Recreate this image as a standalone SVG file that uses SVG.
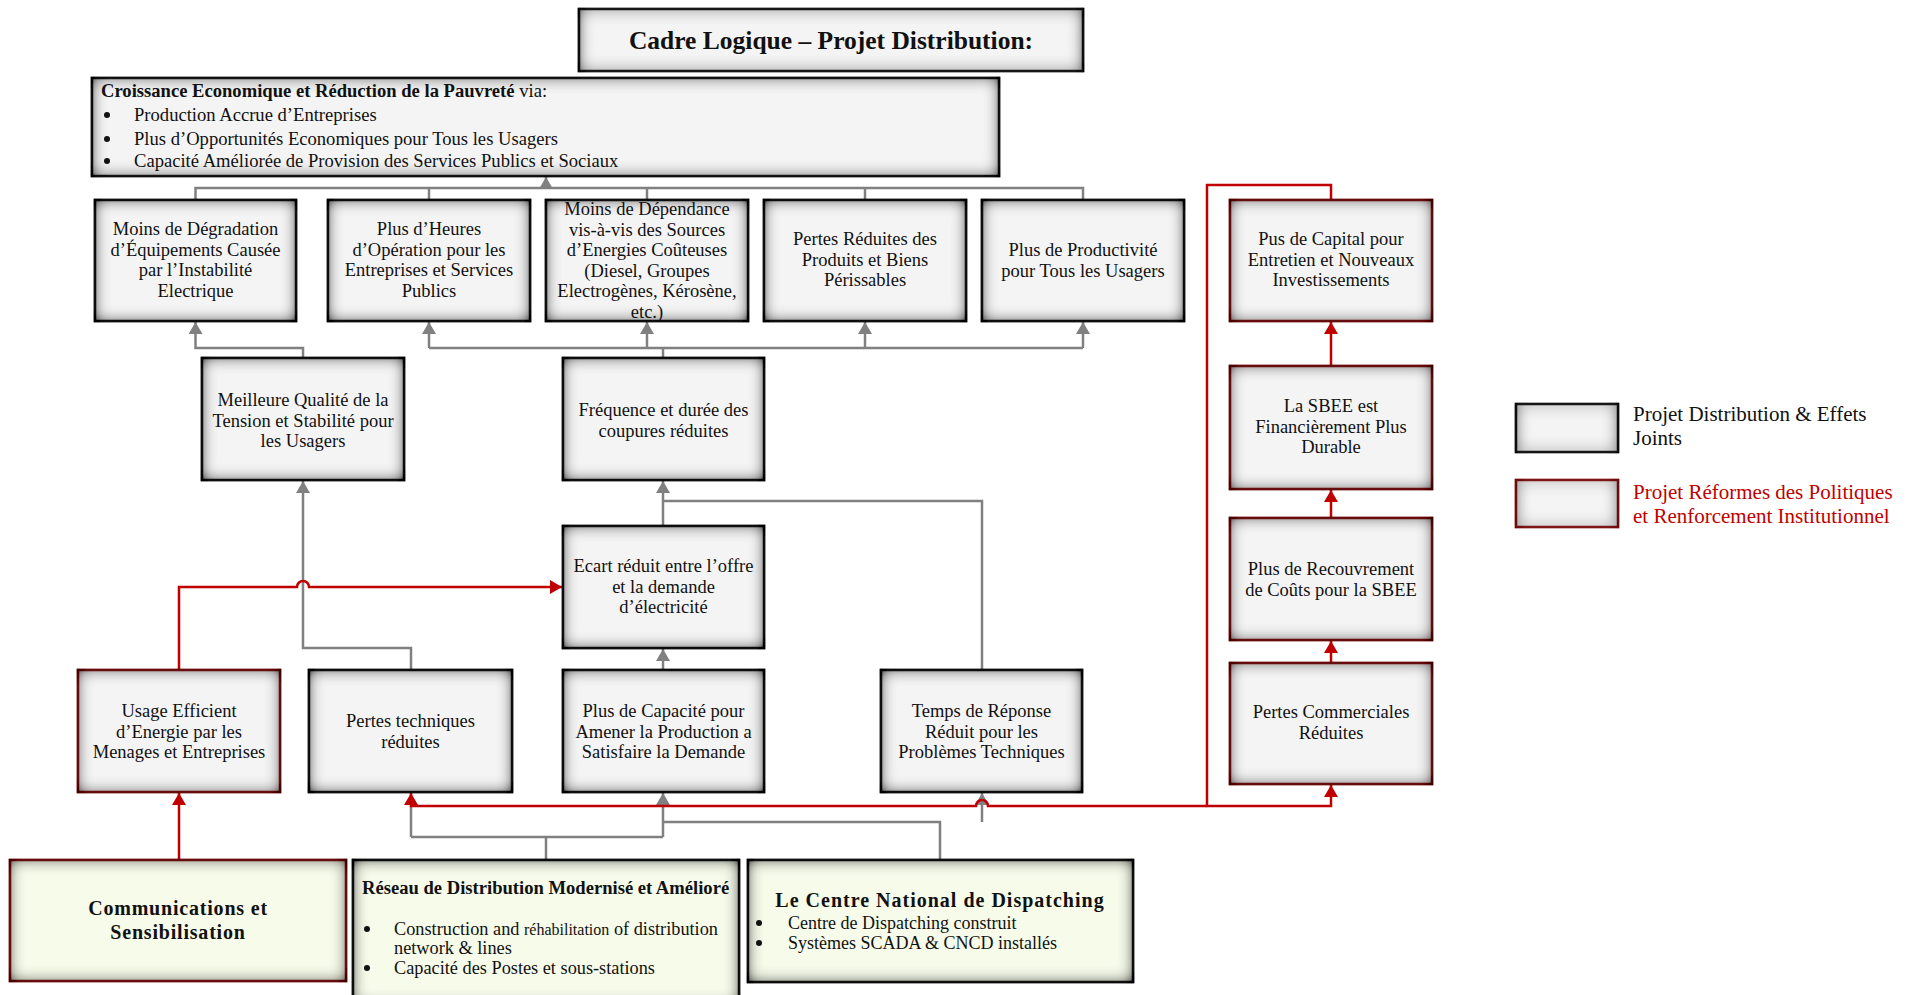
<svg xmlns="http://www.w3.org/2000/svg" width="1931" height="995" viewBox="0 0 1931 995">
<style>
text{font-family:"Liberation Serif","Times New Roman",serif;fill:#111}
.t{font-size:18.5px;text-anchor:middle}
.l{font-size:18.6px}
.b{font-weight:bold}
.bx{fill:#f4f4f4;stroke:#222;stroke-width:2.5;filter:url(#vig)}
.rx{fill:#f4f4f4;stroke:#8e1d1d;stroke-width:2.5;filter:url(#vigr)}
.gx{fill:#f6fbea;stroke:#222;stroke-width:2.5;filter:url(#vig)}
.grx{fill:#f6fbea;stroke:#8e1d1d;stroke-width:2.5;filter:url(#vigr)}
.g{fill:none;stroke:#808080;stroke-width:2.5}
.r{fill:none;stroke:#c00000;stroke-width:2.5}
.ga{marker-end:url(#ag)}
.ra{marker-end:url(#ar)}
.red{fill:#c00000}
</style>
<defs>
<filter id="vig" x="-10%" y="-10%" width="120%" height="120%">
<feFlood flood-color="#000" flood-opacity="1" result="f"/>
<feComposite in="f" in2="SourceAlpha" operator="out" result="o"/>
<feGaussianBlur in="o" stdDeviation="8" result="bl"/>
<feComponentTransfer in="bl" result="bl2"><feFuncA type="linear" slope="1.5"/></feComponentTransfer>
<feComposite in="bl2" in2="SourceAlpha" operator="in" result="s"/>
<feMerge><feMergeNode in="SourceGraphic"/><feMergeNode in="s"/></feMerge>
</filter>
<filter id="vigr" x="-10%" y="-10%" width="120%" height="120%">
<feFlood flood-color="#2a0d0d" flood-opacity="1" result="f"/>
<feComposite in="f" in2="SourceAlpha" operator="out" result="o"/>
<feGaussianBlur in="o" stdDeviation="8" result="bl"/>
<feComponentTransfer in="bl" result="bl2"><feFuncA type="linear" slope="1.4"/></feComponentTransfer>
<feComposite in="bl2" in2="SourceAlpha" operator="in" result="s"/>
<feMerge><feMergeNode in="SourceGraphic"/><feMergeNode in="s"/></feMerge>
</filter>
<marker id="ag" viewBox="0 0 12 14" refX="12" refY="7" markerWidth="12" markerHeight="14" markerUnits="userSpaceOnUse" orient="auto"><path d="M0,0 L12,7 L0,14 z" fill="#808080"/></marker>
<marker id="ar" viewBox="0 0 12 14" refX="12" refY="7" markerWidth="12" markerHeight="14" markerUnits="userSpaceOnUse" orient="auto"><path d="M0,0 L12,7 L0,14 z" fill="#c00000"/></marker>
</defs>
<rect width="1931" height="995" fill="#fff"/>

<g id="connectors">
<path class="g" d="M195.5,200 V188 H1083 V200 M429,188 V200 M647,188 V200 M865,188 V200"/>
<path class="g ga" d="M546,188 V177"/>
<path class="g ga" d="M303,358 V348 H195.5 V322"/>
<path class="g" d="M663,358 V348 M429,348 H1083"/>
<path class="g ga" d="M429,348 V322"/>
<path class="g ga" d="M647,348 V322"/>
<path class="g ga" d="M865,348 V322"/>
<path class="g ga" d="M1083,348 V322"/>
<path class="g ga" d="M663,526 V481"/>
<path class="g" d="M982,670 V501 H663"/>
<path class="g ga" d="M411,670 V648 H303 V481"/>
<path class="g ga" d="M663,670 V649"/>
<path class="g" d="M546,860 V837 M411,837 H663 M411,837 V806 M940,860 V822 H663"/>
<path class="g ga" d="M663,837 V793"/>
<path class="g ga" d="M982,822 V793"/>
<path class="r ra" d="M179,670 V587 H297 a6,6 0 0 1 12,0 H562"/>
<path class="r ra" d="M179,860 V793"/>
<path class="r ra" d="M1331,200 V185 H1207 V806 H1331 V785"/>
<path class="r ra" d="M1207,806 H988 a6,6 0 0 0 -12,0 H411 V793"/>
<path class="r ra" d="M1331,663 V641"/>
<path class="r ra" d="M1331,518 V490"/>
<path class="r ra" d="M1331,366 V322"/>
</g>

<g id="title">
<rect class="bx" x="579" y="9" width="504" height="62"/>
<text x="831" y="48.5" font-size="25.5" font-weight="bold" text-anchor="middle">Cadre Logique – Projet Distribution:</text>
</g>

<g id="goal">
<rect class="bx" x="92" y="78" width="907" height="98"/>
<text class="l" x="101" y="97"><tspan class="b">Croissance Economique et Réduction de la Pauvreté</tspan> via:</text>
<circle cx="107" cy="115" r="3" fill="#111"/>
<text class="l" x="134" y="121">Production Accrue d’Entreprises</text>
<circle cx="107" cy="139" r="3" fill="#111"/>
<text class="l" x="134" y="145">Plus d’Opportunités Economiques pour Tous les Usagers</text>
<circle cx="107" cy="161" r="3" fill="#111"/>
<text class="l" x="134" y="167">Capacité Améliorée de Provision des Services Publics et Sociaux</text>
</g>

<g id="a1">
<rect class="bx" x="95" y="200" width="201" height="121"/>
<text class="t" x="195.5" y="235">Moins de Dégradation</text>
<text class="t" x="195.5" y="255.5">d’Équipements Causée</text>
<text class="t" x="195.5" y="276">par l’Instabilité</text>
<text class="t" x="195.5" y="296.5">Electrique</text>
</g>
<g id="a2">
<rect class="bx" x="328" y="200" width="202" height="121"/>
<text class="t" x="429" y="235">Plus d’Heures</text>
<text class="t" x="429" y="255.5">d’Opération pour les</text>
<text class="t" x="429" y="276">Entreprises et Services</text>
<text class="t" x="429" y="296.5">Publics</text>
</g>
<g id="a3">
<rect class="bx" x="546" y="200" width="202" height="121"/>
<text class="t" x="647" y="215">Moins de Dépendance</text>
<text class="t" x="647" y="235.5">vis-à-vis des Sources</text>
<text class="t" x="647" y="256">d’Energies Coûteuses</text>
<text class="t" x="647" y="276.5">(Diesel, Groupes</text>
<text class="t" x="647" y="297">Electrogènes, Kérosène,</text>
<text class="t" x="647" y="317.5">etc.)</text>
</g>
<g id="a4">
<rect class="bx" x="764" y="200" width="202" height="121"/>
<text class="t" x="865" y="245">Pertes Réduites des</text>
<text class="t" x="865" y="265.5">Produits et Biens</text>
<text class="t" x="865" y="286">Périssables</text>
</g>
<g id="a5">
<rect class="bx" x="982" y="200" width="202" height="121"/>
<text class="t" x="1083" y="256">Plus de Productivité</text>
<text class="t" x="1083" y="276.5">pour Tous les Usagers</text>
</g>

<g id="b1">
<rect class="bx" x="202" y="358" width="202" height="122"/>
<text class="t" x="303" y="406">Meilleure Qualité de la</text>
<text class="t" x="303" y="426.5">Tension et Stabilité pour</text>
<text class="t" x="303" y="447">les Usagers</text>
</g>
<g id="b2">
<rect class="bx" x="563" y="358" width="201" height="122"/>
<text class="t" x="663.5" y="416">Fréquence et durée des</text>
<text class="t" x="663.5" y="436.5">coupures réduites</text>
</g>
<g id="c1">
<rect class="bx" x="563" y="526" width="201" height="122"/>
<text class="t" x="663.5" y="572">Ecart réduit entre l’offre</text>
<text class="t" x="663.5" y="592.5">et la demande</text>
<text class="t" x="663.5" y="613">d’électricité</text>
</g>

<g id="d1">
<rect class="rx" x="78" y="670" width="202" height="122"/>
<text class="t" x="179" y="717">Usage Efficient</text>
<text class="t" x="179" y="737.5">d’Energie par les</text>
<text class="t" x="179" y="758">Menages et Entreprises</text>
</g>
<g id="d2">
<rect class="bx" x="309" y="670" width="203" height="122"/>
<text class="t" x="410.5" y="727">Pertes techniques</text>
<text class="t" x="410.5" y="747.5">réduites</text>
</g>
<g id="d3">
<rect class="bx" x="563" y="670" width="201" height="122"/>
<text class="t" x="663.5" y="717">Plus de Capacité pour</text>
<text class="t" x="663.5" y="737.5">Amener la Production a</text>
<text class="t" x="663.5" y="758">Satisfaire la Demande</text>
</g>
<g id="d4">
<rect class="bx" x="881" y="670" width="201" height="122"/>
<text class="t" x="981.5" y="717">Temps de Réponse</text>
<text class="t" x="981.5" y="737.5">Réduit pour les</text>
<text class="t" x="981.5" y="758">Problèmes Techniques</text>
</g>

<g id="r1">
<rect class="rx" x="1230" y="200" width="202" height="121"/>
<text class="t" x="1331" y="245">Pus de Capital pour</text>
<text class="t" x="1331" y="265.5">Entretien et Nouveaux</text>
<text class="t" x="1331" y="286">Investissements</text>
</g>
<g id="r2">
<rect class="rx" x="1230" y="366" width="202" height="123"/>
<text class="t" x="1331" y="412">La SBEE est</text>
<text class="t" x="1331" y="432.5">Financièrement Plus</text>
<text class="t" x="1331" y="453">Durable</text>
</g>
<g id="r3">
<rect class="rx" x="1230" y="518" width="202" height="122"/>
<text class="t" x="1331" y="575">Plus de Recouvrement</text>
<text class="t" x="1331" y="595.5">de Coûts pour la SBEE</text>
</g>
<g id="r4">
<rect class="rx" x="1230" y="663" width="202" height="121"/>
<text class="t" x="1331" y="718">Pertes Commerciales</text>
<text class="t" x="1331" y="738.5">Réduites</text>
</g>

<g id="e1">
<rect class="grx" x="10" y="860" width="336" height="121"/>
<text x="178" y="915" font-size="20" font-weight="bold" letter-spacing="0.8" text-anchor="middle">Communications et</text>
<text x="178" y="939" font-size="20" font-weight="bold" letter-spacing="0.8" text-anchor="middle">Sensibilisation</text>
</g>
<g id="e2">
<rect class="gx" x="353" y="860" width="386" height="145"/>
<text x="362" y="894" font-size="18.6" font-weight="bold">Réseau de Distribution Modernisé et Amélioré</text>
<circle cx="367" cy="929" r="3" fill="#111"/>
<text x="394" y="935" font-size="18.3">Construction and <tspan font-size="16">réhabilitation</tspan> of distribution</text>
<text x="394" y="954" font-size="18.3">network &amp; lines</text>
<circle cx="367" cy="968" r="3" fill="#111"/>
<text x="394" y="974" font-size="18.3">Capacité des Postes et sous-stations</text>
</g>
<g id="e3">
<rect class="gx" x="748" y="860" width="385" height="122"/>
<text x="940" y="907" font-size="20" font-weight="bold" letter-spacing="1" text-anchor="middle">Le Centre National de Dispatching</text>
<circle cx="759" cy="923" r="3" fill="#111"/>
<text x="788" y="929" font-size="18">Centre de Dispatching construit</text>
<circle cx="759" cy="943" r="3" fill="#111"/>
<text x="788" y="949" font-size="18">Systèmes SCADA &amp; CNCD installés</text>
</g>

<g id="legend">
<rect class="bx" x="1516" y="404" width="102" height="48"/>
<text x="1633" y="421" font-size="21">Projet Distribution &amp; Effets</text>
<text x="1633" y="445" font-size="21">Joints</text>
<rect class="rx" x="1516" y="480" width="102" height="47"/>
<text class="red" x="1633" y="499" font-size="21">Projet Réformes des Politiques</text>
<text class="red" x="1633" y="523" font-size="21">et Renforcement Institutionnel</text>
</g>
</svg>
